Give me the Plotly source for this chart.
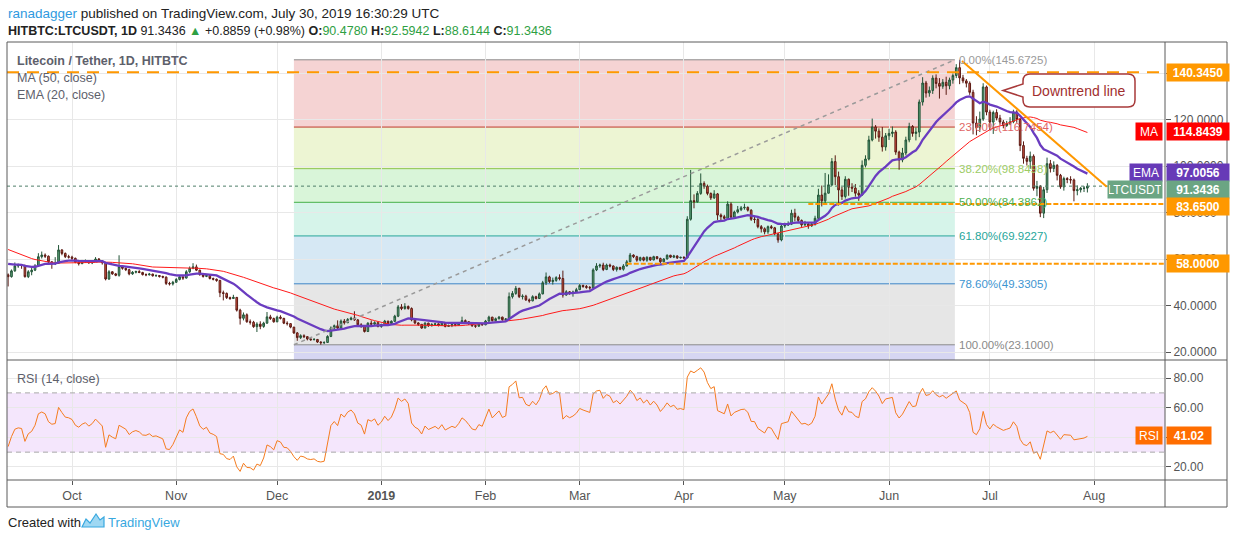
import plotly.graph_objects as go
import pandas as pd

# ---- values: HitBTC LTC/USDT, daily ----

# closes 2018-07-24 .. 2018-09-11, only used to warm up MA50 / EMA20 / RSI14 (not drawn)
warmup_close = [86, 85, 84, 86, 85, 84, 82, 78,
                77, 77, 75, 71, 73, 71, 69, 63, 65, 61, 62, 62, 57, 54, 55, 56,
                59, 56, 56, 53, 55, 55, 56, 57, 57, 56, 60, 63, 62, 61, 66,
                67, 68, 66, 66, 58, 55, 56, 53, 53, 53, 53.2]

first_day = "2018-09-12"

close = [
    # Sep 12-30
    52.4, 54.9, 57.0, 57.4, 57.2, 52.4, 54.5, 55.2, 57.0, 61.0, 61.7, 61.2, 58.8, 58.0, 58.2, 63.9, 62.4, 61.0, 60.8,
    # Oct
    60.3, 58.6, 58.0, 58.8, 59.2, 58.3, 58.9, 60.0, 59.2, 58.4, 51.4, 54.5, 53.6, 53.0, 56.7, 56.0, 55.4, 53.6, 54.3, 54.6,
    54.2, 53.3, 53.2, 53.5, 52.8, 52.9, 52.5, 52.2, 49.5, 49.3, 50.0,
    # Nov
    51.2, 52.3, 51.8, 54.5, 56.0, 56.6, 55.2, 53.3, 52.5, 52.9, 51.6, 51.3, 50.8, 45.5, 45.2, 43.4, 43.0, 43.5, 38.0, 34.5,
    36.0, 33.0, 32.8, 30.9, 32.0, 31.0, 32.4, 35.1, 34.4, 33.0,
    # Dec
    35.0, 34.5, 32.4, 32.2, 30.7, 28.2, 26.2, 27.0, 26.6, 25.6, 25.3, 25.4, 24.3, 24.0, 24.1, 26.7, 30.3, 31.3, 30.3, 33.3,
    32.6, 34.0, 34.6, 33.8, 31.7, 31.2, 28.8, 32.4, 32.0, 32.6, 31.0,
    # Jan
    31.8, 33.3, 32.3, 33.2, 35.4, 39.4, 38.7, 39.6, 38.7, 33.8, 32.5, 31.9, 30.3, 32.4, 31.3, 31.8, 32.1, 31.4, 32.4, 31.0,
    31.4, 31.8, 31.5, 32.3, 33.5, 33.0, 32.2, 31.3, 31.1, 32.0, 31.7,
    # Feb
    33.3, 35.0, 33.5, 34.3, 35.0, 33.9, 34.2, 43.8, 45.2, 47.4, 43.8, 44.0, 42.4, 42.0, 43.8, 43.0, 45.0, 49.8, 52.3, 50.3,
    50.8, 52.0, 51.6, 44.5, 45.9, 45.2, 45.8, 46.8,
    # Mar
    48.6, 48.2, 47.8, 47.6, 55.3, 57.0, 57.4, 55.5, 57.4, 57.0, 55.5, 56.4, 55.6, 57.0, 58.8, 61.7, 61.0, 59.5, 60.6, 59.5,
    60.7, 59.6, 61.0, 60.2, 58.8, 60.0, 61.6, 60.8, 61.3, 60.5, 60.7,
    # Apr
    60.5, 77.1, 85.1, 84.6, 88.2, 92.5, 91.3, 88.2, 86.3, 88.0, 78.9, 78.2, 77.5, 83.6, 78.0, 80.2, 81.2, 82.0, 82.2, 81.0,
    77.1, 77.0, 73.9, 73.0, 71.7, 73.9, 73.4, 70.8, 68.2, 74.2,
    # May
    74.6, 75.0, 79.7, 78.0, 76.6, 74.7, 75.0, 74.3, 75.0, 77.5, 87.5, 85.0, 88.3, 91.9, 101.9, 95.4, 89.7, 86.9, 94.3, 90.9,
    90.5, 88.3, 87.5, 100.3, 103.0, 111.2, 116.8, 115.0, 112.4, 108.2, 113.0,
    # Jun
    114.0, 114.6, 106.0, 102.6, 105.6, 111.2, 117.0, 114.0, 114.6, 127.5, 135.7, 131.4, 132.5, 137.8, 135.5, 134.3, 136.0,
    134.5, 137.0, 138.9, 142.3, 137.9, 136.6, 135.6, 131.7, 118.5, 116.5, 120.2, 134.0, 123.2,
    # Jul 1-30
    118.9, 123.0, 120.6, 118.9, 117.4, 118.2, 119.0, 123.2, 120.0, 108.8, 103.3, 102.0, 104.2, 90.4, 91.2, 79.7, 89.8,
    101.0, 98.9, 100.3, 96.0, 91.0, 94.6, 94.2, 94.0, 89.4, 89.8, 90.4, 90.478, 91.3436,
]

high = [
    53.8, 55.5, 58.5, 58.0, 57.8, 57.6, 55.2, 56.2, 57.8, 62.5, 63.2, 62.4, 61.5, 59.0, 60.8, 66.0, 64.2, 62.8, 61.8,
    61.4, 60.6, 59.2, 59.6, 59.8, 59.4, 59.4, 60.8, 60.4, 59.4, 58.6, 55.2, 54.8, 54.0, 61.6, 57.2, 56.3, 55.8, 54.8, 55.0,
    55.2, 54.5, 53.8, 54.0, 53.7, 53.4, 53.1, 52.8, 52.5, 50.2, 50.6,
    51.8, 52.8, 52.6, 55.2, 56.8, 58.2, 57.6, 55.4, 53.6, 53.4, 53.0, 52.0, 51.6, 51.0, 46.4, 45.6, 43.8, 44.6, 43.6, 38.6,
    37.0, 36.6, 34.0, 33.4, 32.8, 33.2, 33.0, 37.2, 36.0, 34.8,
    35.6, 35.8, 34.6, 33.2, 32.4, 30.8, 28.6, 27.6, 27.6, 26.8, 25.9, 26.0, 25.6, 24.6, 24.6, 27.2, 31.0, 31.8, 33.6, 34.0,
    34.2, 34.6, 35.2, 37.5, 34.2, 32.4, 31.6, 32.8, 33.6, 33.2, 33.0,
    32.2, 33.8, 33.4, 33.6, 36.0, 40.2, 40.6, 41.0, 40.0, 39.2, 34.2, 32.8, 32.0, 32.8, 32.6, 32.4, 32.6, 32.3, 33.2, 32.8,
    31.8, 32.2, 32.1, 32.6, 35.2, 34.0, 33.2, 32.4, 31.6, 32.4, 32.3,
    33.8, 35.6, 35.1, 34.8, 35.5, 35.2, 34.6, 45.6, 46.2, 48.4, 47.6, 44.8, 44.6, 43.0, 44.4, 44.2, 45.6, 50.6, 54.2, 52.8,
    52.0, 52.6, 53.4, 55.0, 46.6, 46.2, 46.4, 47.6,
    49.4, 49.0, 48.8, 48.4, 56.0, 58.2, 58.0, 58.4, 58.0, 58.0, 57.2, 56.8, 56.6, 57.8, 59.6, 62.6, 62.0, 61.4, 61.0, 61.0,
    61.2, 60.9, 61.4, 61.2, 60.6, 60.4, 62.0, 61.8, 61.8, 61.6, 61.0,
    61.2, 78.4, 98.3, 87.8, 89.2, 96.8, 93.4, 92.0, 88.6, 89.6, 88.4, 79.6, 79.0, 84.8, 84.4, 80.8, 82.8, 82.8, 83.8, 82.6,
    81.4, 78.4, 77.6, 74.6, 73.6, 74.4, 74.6, 73.8, 71.2, 74.8,
    75.6, 76.2, 81.2, 81.6, 78.6, 77.0, 76.4, 75.6, 75.8, 78.6, 90.2, 91.6, 97.0, 96.4, 103.4, 104.6, 97.6, 91.0, 95.6, 94.6,
    92.6, 92.2, 89.6, 102.4, 104.6, 113.0, 120.4, 117.6, 116.2, 116.8, 114.2,
    116.0, 117.0, 115.4, 106.6, 107.8, 112.6, 118.6, 117.6, 116.6, 128.6, 138.2, 136.6, 134.2, 139.0, 139.4, 137.8, 137.4,
    138.4, 138.0, 139.8, 143.8, 145.6725, 139.2, 137.4, 136.4, 132.8, 121.4, 123.4, 135.6, 134.6,
    124.2, 123.8, 124.4, 122.0, 119.8, 119.4, 121.0, 124.2, 124.0, 120.6, 110.6, 104.4, 106.2, 105.0, 93.6, 91.8, 91.0,
    103.6, 102.6, 102.0, 100.8, 96.6, 95.4, 95.2, 95.6, 94.6, 91.6, 91.0, 91.4, 92.5942,
]

low = [
    48.2, 52.0, 54.5, 56.2, 55.8, 52.0, 51.8, 53.0, 54.8, 56.8, 60.2, 60.4, 58.0, 55.8, 57.4, 58.0, 61.6, 60.4, 60.2,
    59.6, 58.2, 57.2, 57.8, 58.4, 58.0, 57.8, 58.6, 58.8, 57.6, 50.8, 51.0, 53.2, 52.6, 52.4, 55.4, 54.8, 53.0, 53.2, 53.8,
    53.9, 52.9, 52.6, 52.9, 52.4, 52.3, 52.0, 51.7, 48.8, 48.6, 48.6,
    49.8, 50.8, 51.0, 51.6, 54.0, 55.6, 54.8, 52.8, 52.0, 52.2, 51.2, 50.8, 50.2, 43.6, 42.2, 42.8, 42.4, 42.8, 37.4, 31.8,
    33.6, 32.6, 31.8, 30.4, 28.6, 29.8, 30.4, 32.2, 33.8, 32.6,
    32.8, 34.0, 32.0, 31.4, 30.2, 27.8, 24.8, 25.6, 26.0, 25.0, 24.8, 25.0, 23.9, 23.1, 23.4, 23.9, 26.4, 29.4, 29.8, 30.0,
    31.8, 32.4, 33.6, 33.4, 30.8, 30.4, 28.4, 28.6, 31.6, 31.4, 30.6,
    30.4, 31.4, 31.6, 31.8, 32.9, 35.0, 38.0, 38.2, 38.2, 33.2, 32.0, 31.2, 30.0, 30.2, 30.8, 31.0, 31.2, 31.0, 31.3, 30.6,
    30.8, 30.7, 31.1, 31.4, 32.1, 32.7, 31.6, 30.8, 30.4, 30.9, 31.4,
    31.5, 33.0, 33.1, 33.2, 34.0, 33.4, 33.5, 34.0, 43.0, 44.6, 43.2, 42.6, 42.0, 41.2, 41.8, 42.6, 42.8, 44.8, 48.8, 49.6,
    49.0, 50.2, 50.8, 43.4, 44.2, 44.6, 43.8, 45.4,
    46.6, 47.6, 47.2, 46.8, 47.4, 54.8, 56.2, 54.8, 55.2, 56.4, 54.8, 54.6, 55.2, 55.0, 56.8, 58.6, 60.4, 58.8, 59.0, 59.0,
    58.8, 59.2, 59.4, 59.8, 58.2, 58.6, 59.8, 60.4, 60.4, 60.0, 60.2,
    60.0, 60.3, 76.5, 81.8, 84.2, 87.6, 90.2, 87.4, 85.4, 85.8, 76.8, 76.6, 76.9, 77.2, 77.2, 77.6, 79.6, 80.6, 81.2, 80.4,
    76.4, 75.4, 73.2, 71.4, 70.6, 70.8, 72.8, 70.2, 67.0, 67.6,
    73.4, 74.2, 74.6, 76.2, 75.8, 73.8, 74.2, 73.0, 73.8, 74.4, 77.0, 82.6, 84.0, 88.2, 91.4, 91.8, 83.0, 85.4, 86.0, 87.2,
    88.8, 86.8, 85.0, 87.2, 99.4, 102.4, 110.6, 111.8, 110.4, 106.2, 106.6,
    111.2, 112.4, 104.8, 98.4, 101.6, 104.6, 110.2, 112.6, 111.0, 112.4, 126.0, 129.4, 129.8, 131.0, 133.4, 129.0, 133.2,
    130.6, 133.0, 135.4, 137.8, 135.2, 135.6, 133.8, 130.6, 113.6, 113.2, 114.6, 119.4, 121.8,
    115.4, 113.8, 119.6, 117.8, 116.2, 116.8, 117.6, 118.4, 118.6, 106.4, 101.0, 100.2, 98.8, 89.4, 87.0, 78.0, 77.6,
    88.4, 97.2, 97.4, 93.8, 90.2, 89.4, 92.6, 92.4, 84.8, 87.4, 88.6, 88.8, 88.6144,
]

# Fibonacci retracement drawn from the December low to the June high
fib_start = "2018-12-06 00:00"
fib_end = "2019-06-20 14:00"
fib_ratios = [0.0, 0.236, 0.382, 0.5, 0.618, 0.786, 1.0]
fib_prices = [145.6725, 116.7454, 98.8498, 84.3862, 69.9227, 49.3305, 23.1]

# horizontal support / resistance lines and where they start
level_prices = [140.345, 83.65, 58.0]
level_starts = [None, "2019-05-08", "2019-03-15"]
level_texts = ["140.3450", "83.6500", "58.0000"]

# downtrend line end points
trend_x = ["2019-06-22 17:00", "2019-08-04 18:00"]
trend_y = [145.2, 91.1]

# last values printed on the price / RSI scales
last_price = 91.3436
last_ma = 114.8439
last_ema = 97.0056
last_rsi = 41.02

month_ticks = ["2018-10-01", "2018-11-01", "2018-12-01", "2019-01-01", "2019-02-01", "2019-03-01",
               "2019-04-01", "2019-05-01", "2019-06-01", "2019-07-01", "2019-08-01"]
month_labels = ["Oct", "Nov", "Dec", "<b>2019</b>", "Feb", "Mar", "Apr", "May", "Jun", "Jul", "Aug"]
price_ticks = [20, 40, 60, 80, 100, 120, 140]
rsi_ticks = [20, 40, 60, 80]

# ---- indicators ----
n = min(len(close), len(high), len(low))
close, high, low = close[:n], high[:n], low[:n]
dates = pd.date_range(first_day, periods=n, freq="D")
opens = [warmup_close[-1]] + close[:-1]
high = [max(h, o, c) for h, o, c in zip(high, opens, close)]
low = [min(l, o, c) for l, o, c in zip(low, opens, close)]

s = pd.Series(warmup_close + close, dtype=float)
ma50 = s.rolling(50).mean()
ema20 = s.ewm(span=20, adjust=False).mean()
d = s.diff()
up = d.clip(lower=0).ewm(alpha=1 / 14, adjust=False).mean()
dn = (-d.clip(upper=0)).ewm(alpha=1 / 14, adjust=False).mean()
rsi = 100 - 100 / (1 + up / dn)
k = len(warmup_close)
ma50, ema20, rsi = ma50[k:].tolist(), ema20[k:].tolist(), rsi[k:].tolist()

# ---- geometry (pixels of the 1234x540 picture) ----
PL, PR, PT, PB = 7, 1165, 42, 480
SPLIT = 360
FRAME_R, FRAME_B = 1227, 507


def X(x):
    return (x - PL) / (PR - PL)


def Y(y):
    return (PB - y) / (PB - PT)


x_range = ["2018-09-11 16:00", "2019-08-22 02:00"]
price_range = [20 - (SPLIT - 352) / 2.325, 20 + (352 - PT) / 2.325]
rsi_range = [11.2, 92.2]
GRID = "#e8e8e8"
FONT = "Liberation Sans, Arial, sans-serif"

fig = go.Figure()

fig.add_trace(go.Candlestick(
    x=dates, open=opens, high=high, low=low, close=close,
    increasing=dict(line=dict(color="#225437", width=1), fillcolor="#5fa57c"),
    decreasing=dict(line=dict(color="#5b1a13", width=1), fillcolor="#d75442"),
    whiskerwidth=0, hoverinfo="skip", xaxis="x", yaxis="y"))
fig.add_trace(go.Scatter(x=dates, y=ma50, mode="lines", line=dict(color="#ff1a1a", width=1),
                         hoverinfo="skip", xaxis="x", yaxis="y"))
fig.add_trace(go.Scatter(x=dates, y=ema20, mode="lines", line=dict(color="#6a3cc0", width=2.3),
                         hoverinfo="skip", xaxis="x", yaxis="y"))
fig.add_trace(go.Scatter(x=dates, y=rsi, mode="lines", line=dict(color="#f57c1f", width=1),
                         hoverinfo="skip", xaxis="x2", yaxis="y2"))

shapes = []
annotations = []

# fib zones, lines and labels
zone_colors = ["#f5d3d3", "#edf5d3", "#d9f5d9", "#d6f4ea", "#d6e8f4", "#e6e6e6"]
line_colors = ["#8a8a8a", "#c0392b", "#8bc34a", "#43b047", "#26a69a", "#3d85c6", "#8a8a8a"]
text_colors = ["#9a9a9a", "#e06666", "#9ccc65", "#4caf50", "#26a69a", "#3d95d1", "#8a8a8a"]
for i in range(len(fib_prices) - 1):
    shapes.append(dict(type="rect", xref="x", yref="y", x0=fib_start, x1=fib_end,
                       y0=fib_prices[i + 1], y1=fib_prices[i], fillcolor=zone_colors[i],
                       line=dict(width=0), layer="below"))
shapes.append(dict(type="rect", xref="x", yref="y", x0=fib_start, x1=fib_end,
                   y0=0, y1=fib_prices[-1], fillcolor="#d6d6f2", line=dict(width=0), layer="below"))
for r, p, lc, tc in zip(fib_ratios, fib_prices, line_colors, text_colors):
    shapes.append(dict(type="line", xref="x", yref="y", x0=fib_start, x1=fib_end, y0=p, y1=p,
                       line=dict(color=lc, width=1), layer="below"))
    annotations.append(dict(xref="x", yref="y", x=fib_end, y=p, xanchor="left", yanchor="middle",
                            xshift=2, text=f"{r * 100:.2f}%({p:.4f})", showarrow=False,
                            font=dict(family=FONT, size=11.5, color=tc)))
shapes.append(dict(type="line", xref="x", yref="y", x0=fib_start, x1=fib_end,
                   y0=fib_prices[-1], y1=fib_prices[0], line=dict(color="#9a9a9a", width=1.5, dash="4px,4px")))

# orange key levels
for p, st, i in zip(level_prices, level_starts, range(3)):
    dash = "12px,8px" if i == 0 else "5px,2px"
    shapes.append(dict(type="line", xref="x", yref="y", x0=st or x_range[0], x1=x_range[1], y0=p, y1=p,
                       line=dict(color="#ff9800", width=2, dash=dash)))

# last price dotted line
shapes.append(dict(type="line", xref="paper", yref="y", x0=0, x1=1, y0=last_price, y1=last_price,
                   line=dict(color="#4f7f69", width=1, dash="dot")))

# downtrend line
shapes.append(dict(type="line", xref="x", yref="y", x0=trend_x[0], x1=trend_x[1], y0=trend_y[0], y1=trend_y[1],
                   line=dict(color="#ff9800", width=2)))

# callout bubble
path = (f"M {X(1030)},{Y(74)} L {X(1128)},{Y(74)} Q {X(1135)},{Y(74)} {X(1135)},{Y(81)} "
        f"L {X(1135)},{Y(100)} Q {X(1135)},{Y(107)} {X(1128)},{Y(107)} L {X(1030)},{Y(107)} "
        f"Q {X(1023)},{Y(107)} {X(1023)},{Y(100)} L {X(1023)},{Y(97)} L {X(1003)},{Y(90.5)} "
        f"L {X(1023)},{Y(84)} L {X(1023)},{Y(81)} Q {X(1023)},{Y(74)} {X(1030)},{Y(74)} Z")
shapes.append(dict(type="path", xref="paper", yref="paper", path=path, fillcolor="white",
                   line=dict(color="#a83a3a", width=1.5)))
annotations.append(dict(xref="paper", yref="paper", x=X(1079), y=Y(90.5), xanchor="center", yanchor="middle",
                        text="Downtrend line", showarrow=False,
                        font=dict(family=FONT, size=14, color="#a12e2e")))

# RSI band
shapes.append(dict(type="rect", xref="paper", yref="y2", x0=0, x1=1, y0=30, y1=70,
                   fillcolor="#f4e6fc", line=dict(width=0), layer="below"))
for v in (30, 70):
    shapes.append(dict(type="line", xref="paper", yref="y2", x0=0, x1=1, y0=v, y1=v,
                       line=dict(color="#a8a8a8", width=1, dash="5px,4px")))

# frame
FR = "#5a5a5a"
shapes.append(dict(type="rect", xref="paper", yref="paper", x0=X(PL), x1=X(FRAME_R), y0=Y(FRAME_B), y1=Y(PT),
                   line=dict(color=FR, width=1)))
for (x0, y0, x1, y1) in [(PR, PT, PR, FRAME_B), (PL, SPLIT, FRAME_R, SPLIT), (PL, PB, FRAME_R, PB)]:
    shapes.append(dict(type="line", xref="paper", yref="paper", x0=X(x0), x1=X(x1), y0=Y(y0), y1=Y(y1),
                       line=dict(color=FR, width=1)))


# price scale tags
def value_tag(text, y, color, yref="y", yshift=0, w=60):
    annotations.append(dict(xref="paper", yref=yref, x=X(PR + 1), y=y, xanchor="left", yanchor="middle",
                            yshift=yshift, text=f"<b>{text}</b>", showarrow=False, bgcolor=color, width=w,
                            height=15, align="center", font=dict(family=FONT, size=12, color="white")))


def name_tag(text, y, color, w, yref="y", yshift=0):
    annotations.append(dict(xref="paper", yref=yref, x=X(PR - 2), y=y, xanchor="right", yanchor="middle",
                            yshift=yshift, text=text, showarrow=False, bgcolor=color, width=w,
                            height=15, align="center", font=dict(family=FONT, size=12, color="white")))


value_tag(level_texts[0], level_prices[0], "#ff9800")
name_tag("MA", last_ma, "#ff0000", 24)
value_tag(f"{last_ma:.4f}", last_ma, "#ff0000")
name_tag("EMA", last_ema, "#673ab7", 30)
value_tag(f"{last_ema:.4f}", last_ema, "#673ab7")
name_tag("LTCUSDT", last_price, "#6ba583", 52, yshift=-3)
value_tag(f"{last_price:.4f}", last_price, "#6ba583", yshift=-3)
value_tag(level_texts[1], level_prices[1], "#ff9800", yshift=-2)
value_tag(level_texts[2], level_prices[2], "#ff9800")
name_tag("RSI", last_rsi, "#ff6d00", 24, yref="y2")
value_tag(f"{last_rsi:.2f}", last_rsi, "#ff6d00", yref="y2", w=42)

# texts
GREEN = "#2ea043"
header1 = ("<span style='color:#2f9ae0'>ranadagger</span> published on TradingView.com, "
           "July 30, 2019 16:30:29 UTC")
header2 = (f"<b>HITBTC:LTCUSDT, 1D</b> 91.3436 <span style='color:{GREEN}'>▲</span> +0.8859 (+0.98%) "
           f"<b>O:</b><span style='color:{GREEN}'>90.4780</span> <b>H:</b><span style='color:{GREEN}'>92.5942</span> "
           f"<b>L:</b><span style='color:{GREEN}'>88.6144</span> <b>C:</b><span style='color:{GREEN}'>91.3436</span>")
for txt, yy, fs in [(header1, 13, 13.5), (header2, 31, 12.5)]:
    annotations.append(dict(xref="paper", yref="paper", x=X(6), y=Y(yy), xanchor="left", yanchor="middle",
                            text=txt, showarrow=False, font=dict(family=FONT, size=fs, color="#222")))
for txt, yy in [("<b>Litecoin / Tether, 1D, HITBTC</b>", 61), ("MA (50, close)", 78), ("EMA (20, close)", 95),
                ("RSI (14, close)", 379)]:
    annotations.append(dict(xref="paper", yref="paper", x=X(15), y=Y(yy), xanchor="left", yanchor="middle",
                            text=txt, showarrow=False, font=dict(family=FONT, size=12.5, color="#5d606b")))
annotations.append(dict(xref="paper", yref="paper", x=X(6), y=Y(522), xanchor="left", yanchor="middle",
                        text="Created with", showarrow=False, font=dict(family=FONT, size=13, color="#222")))
annotations.append(dict(xref="paper", yref="paper", x=X(106), y=Y(522), xanchor="left", yanchor="middle",
                        text="TradingView", showarrow=False, font=dict(family=FONT, size=13, color="#38a8df")))
logo = " ".join(f"{'M' if j == 0 else 'L'} {X(a)},{Y(b)}" for j, (a, b) in
                enumerate([(82, 527), (86, 519), (90, 523), (96, 514), (100, 520), (104, 517), (104, 527)])) + " Z"
shapes.append(dict(type="path", xref="paper", yref="paper", path=logo, fillcolor="#9fd8f3",
                   line=dict(color="#38a8df", width=1.2)))

fig.update_layout(
    width=1234, height=540, margin=dict(l=PL, r=1234 - PR, t=PT, b=540 - PB),
    paper_bgcolor="white", plot_bgcolor="white", showlegend=False,
    font=dict(family=FONT, size=12, color="#555"),
    xaxis=dict(domain=[0, 1], anchor="y", type="date", range=x_range, tickvals=month_ticks,
               showticklabels=False, showgrid=True, gridcolor=GRID, zeroline=False,
               rangeslider=dict(visible=False), fixedrange=True),
    xaxis2=dict(domain=[0, 1], anchor="y2", type="date", range=x_range, matches="x", tickvals=month_ticks,
                ticktext=month_labels, ticks="outside", ticklen=4, tickcolor="#555", showgrid=True,
                gridcolor=GRID, zeroline=False, tickfont=dict(family=FONT, size=12.5, color="#555")),
    yaxis=dict(domain=[Y(SPLIT), 1], anchor="x", side="right", range=price_range, tickvals=price_ticks,
               tickformat=".4f", ticks="outside", ticklen=5, tickcolor="#555", showgrid=True, gridcolor=GRID,
               zeroline=False, tickfont=dict(family=FONT, size=12, color="#555")),
    yaxis2=dict(domain=[0, Y(SPLIT)], anchor="x2", side="right", range=rsi_range, tickvals=rsi_ticks,
                tickformat=".2f", ticks="outside", ticklen=5, tickcolor="#555", showgrid=True, gridcolor=GRID,
                zeroline=False, tickfont=dict(family=FONT, size=12, color="#555")),
    shapes=shapes, annotations=annotations,
)

# the page's default 8px body margin would push the 1234x540 figure off the window
fig.write_html("out.html", config={"displayModeBar": False},
               post_script="document.body.style.margin='0';document.body.style.overflow='hidden';")
